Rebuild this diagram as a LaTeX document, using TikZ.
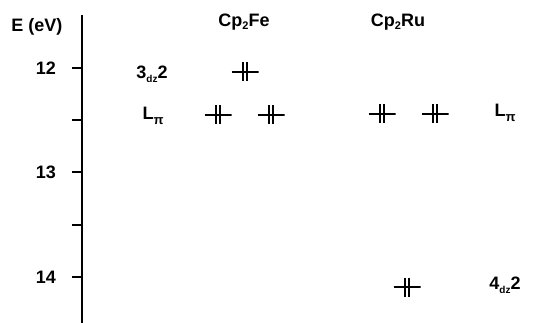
\documentclass[tikz,border=0pt]{standalone}
\usepackage{fontspec}
\setmainfont{Liberation Sans}
\begin{document}
\begin{tikzpicture}[x=1pt,y=-1pt,
  lbl/.style={font=\fontsize{18}{20}\selectfont\bfseries, inner sep=0pt},
  orbital/.style={minimum width=27pt, minimum height=19pt, inner sep=0pt,
    path picture={
      \draw[line width=1.4pt]
        (path picture bounding box.west) -- (path picture bounding box.east);
      \draw[line width=1.6pt]
        ([xshift=-2pt]path picture bounding box.north) -- ([xshift=-2pt]path picture bounding box.south)
        ([xshift=2pt]path picture bounding box.north) -- ([xshift=2pt]path picture bounding box.south);
    }},
  tick/.style={line width=1.2pt}]
\useasboundingbox (0,0) rectangle (549,323);

% energy axis
\coordinate (axtop) at (82,15);
\coordinate (axbot) at (82,323);
\draw[line width=1.3pt] (axtop) -- (axbot);
\foreach \y/\n in {68/t12,120/t125,172/t13,225/t135,277/t14}{
  \coordinate (\n) at (82,\y);
  \draw[tick] (\n) -- ++(-10,0);
}
\node[lbl] (eunit) at (37,27) {E (eV)};
\node[lbl] (l12) at (46,68) {12};
\node[lbl] (l13) at (46,172) {13};
\node[lbl] (l14) at (46,277) {14};

% column headings
\node[lbl] (fe) at (244,22) {Cp\raisebox{-0.35ex}{\fontsize{11}{11}\selectfont 2}Fe};
\node[lbl] (ru) at (398,22) {Cp\raisebox{-0.35ex}{\fontsize{11}{11}\selectfont 2}Ru};

% level labels
\node[lbl] (d3) at (152,74) {3\raisebox{-0.45ex}{\fontsize{10}{10}\selectfont dz}2};
\node[lbl] (lpiL) at (153,116) {L\raisebox{-0.5ex}{\fontsize{13}{13}\selectfont π}};
\node[lbl] (lpiR) at (505,113) {L\raisebox{-0.5ex}{\fontsize{13}{13}\selectfont π}};
\node[lbl] (d4) at (505,285) {4\raisebox{-0.45ex}{\fontsize{10}{10}\selectfont dz}2};

% doubly occupied levels
\node[orbital] (fed) at (245,72) {};
\node[orbital] (fepa) at (218,115) {};
\node[orbital] (fepb) at (271,115) {};
\node[orbital] (rupa) at (382,114) {};
\node[orbital] (rupb) at (435,114) {};
\node[orbital] (rud) at (407,287) {};
\end{tikzpicture}
\end{document}
